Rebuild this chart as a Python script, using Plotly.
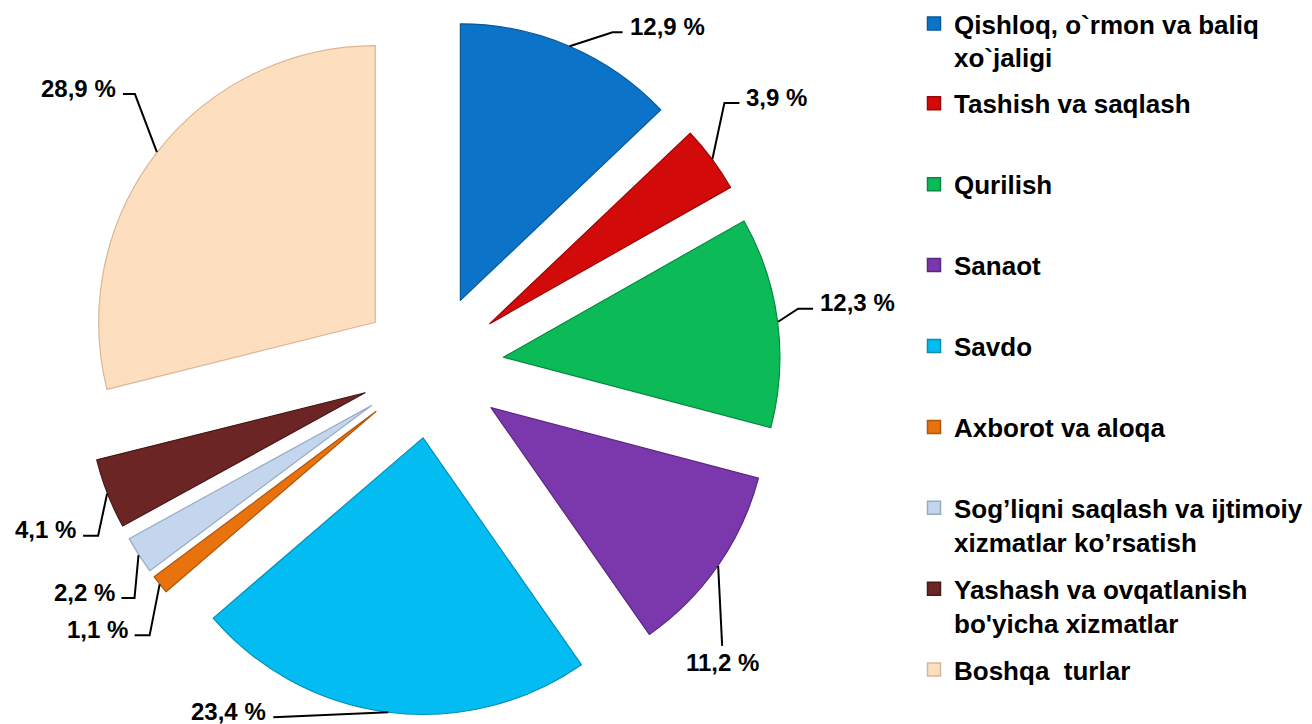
import math
import plotly.graph_objects as go

# ---------------- data ----------------
categories = [
    "Qishloq, o`rmon va baliq xo`jaligi",
    "Tashish va saqlash",
    "Qurilish",
    "Sanaot",
    "Savdo",
    "Axborot va aloqa",
    "Sog’liqni saqlash va ijtimoiy xizmatlar ko’rsatish",
    "Yashash va ovqatlanish bo'yicha xizmatlar",
    "Boshqa  turlar",
]
legend_labels = [
    "Qishloq, o`rmon va baliq<br>xo`jaligi",
    "Tashish va saqlash",
    "Qurilish",
    "Sanaot",
    "Savdo",
    "Axborot va aloqa",
    "Sog’liqni saqlash va ijtimoiy<br>xizmatlar ko’rsatish",
    "Yashash va ovqatlanish<br>bo'yicha xizmatlar",
    "Boshqa  turlar",
]
shares = [12.9, 3.9, 12.3, 11.2, 23.4, 1.1, 2.2, 4.1, 28.9]

# ---------------- styles ----------------
colors = ["#0B74C8", "#D20A0A", "#0CBA58", "#7A38AC", "#03BDF2",
          "#E8730E", "#C3D6EE", "#6B2525", "#FDDFBF"]
edge_colors = ["#08599A", "#9A0707", "#078A40", "#5A2682", "#0290B8",
               "#B0560A", "#97ABC6", "#4A1818", "#D8B794"]

W, H = 1312, 724
PIE_CX, PIE_CY = 432, 366      # pixel centre of pie
PIE_EXT = 349                  # outer extent (radius incl. pull) in px
PULL = 0.26
FONT = "Liberation Sans, Arial, sans-serif"

# leader line: (elbow dx, elbow dy, horizontal run, text side)
leaders = [(43, -14, 10, "left"), (12, -56, 15, "left"), (20, -13, 15, "left"),
           (4, 80, 0, "below"), (-115, 5, 0, "right"), (-10, 51, -15, "right"),
           (-4, 43, -13, "right"), (-9, 42, -15, "right"), (-22, -58, -12, "right")]


def px(x):
    return x / W


def py(y):
    return 1 - y / H


fig = go.Figure()
fig.add_trace(go.Pie(
    labels=categories,
    values=shares,
    sort=False,
    direction="clockwise",
    rotation=0,
    pull=[PULL] * len(shares),
    textinfo="none",
    hoverinfo="label+percent",
    marker=dict(colors=colors, line=dict(color=edge_colors, width=1.2)),
    showlegend=False,
    domain=dict(x=[px(PIE_CX - PIE_EXT), px(PIE_CX + PIE_EXT)],
                y=[py(PIE_CY + PIE_EXT), py(PIE_CY - PIE_EXT)]),
))

# percentage labels with leader lines, anchored at each slice's mid-angle
total = sum(shares)
cum = 0.0
shapes, annotations = [], []
for v, (ex, ey, hx, side) in zip(shares, leaders):
    mid = (cum + v / 2) / total * 2 * math.pi
    cum += v
    ax = PIE_CX + PIE_EXT * math.sin(mid)
    ay = PIE_CY - PIE_EXT * math.cos(mid)
    bx, by = ax + ex, ay + ey
    cx_, cy_ = bx + hx, by
    shapes.append(dict(type="path", xref="paper", yref="paper",
                       path=f"M {px(ax)} {py(ay)} L {px(bx)} {py(by)} L {px(cx_)} {py(cy_)}",
                       line=dict(color="black", width=2)))
    label = f"{v:.1f}".replace(".", ",") + " %"
    if side == "left":
        tx, ty, xa = cx_ + 5, cy_ - 6, "left"
    elif side == "right":
        tx, ty, xa = cx_ - 5, min(cy_ - 6, H - 13), "right"
    else:
        tx, ty, xa = cx_, cy_ + 17, "center"
    annotations.append(dict(x=px(tx), y=py(ty), xref="paper", yref="paper",
                            xanchor=xa, yanchor="middle", showarrow=False,
                            text=label,
                            font=dict(family=FONT, size=24, color="black", weight="bold")))

# legend entries (one legend per entry to reproduce the even spacing)
LEG_X = 914
LEG_FIRST = 22
LEG_STEP = 80.9
layout_legends = {}
for i, (lab, c, ec) in enumerate(zip(legend_labels, colors, edge_colors)):
    key = "legend" if i == 0 else f"legend{i + 1}"
    fig.add_trace(go.Scatter(
        x=[None], y=[None], mode="markers", name=lab, legend=key,
        showlegend=True, hoverinfo="skip",
        marker=dict(symbol="square", size=13, color=c, line=dict(color=ec, width=1.5)),
    ))
    top = LEG_FIRST + LEG_STEP * i - 23
    layout_legends[key] = dict(
        x=px(LEG_X), xanchor="left", y=py(top), yanchor="top",
        valign="top", bgcolor="rgba(0,0,0,0)", borderwidth=0,
        font=dict(family=FONT, size=26, color="black", weight="bold"),
    )

fig.update_layout(
    width=W, height=H,
    margin=dict(l=0, r=0, t=0, b=0),
    paper_bgcolor="white",
    plot_bgcolor="white",
    xaxis=dict(visible=False),
    yaxis=dict(visible=False),
    shapes=shapes,
    annotations=annotations,
    **layout_legends,
)

fig.write_html("out.html", config={"displayModeBar": False},
               post_script="document.body.style.margin='0px';")
